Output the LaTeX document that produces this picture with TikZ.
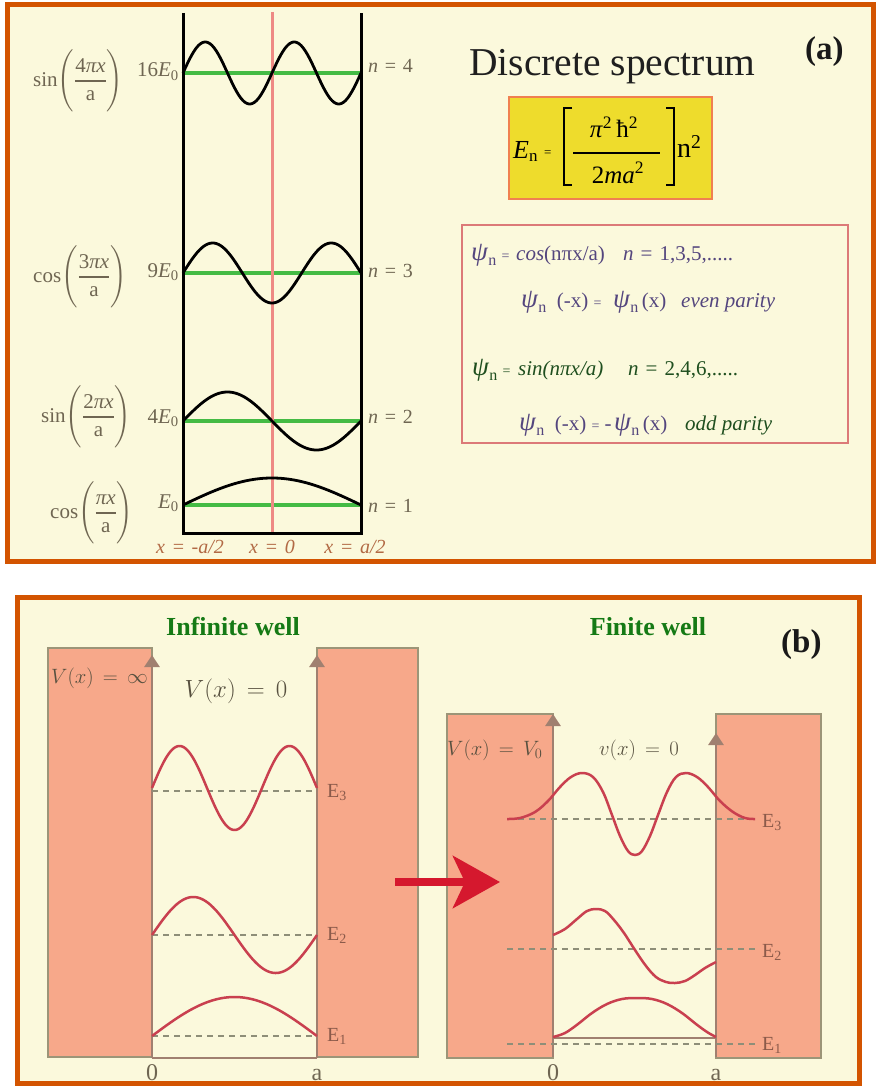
\documentclass[tikz,border=0pt]{standalone}
\usepackage{amsmath}
\usepackage{fontspec}
\setmainfont{Liberation Serif}
\usetikzlibrary{arrows.meta}
\definecolor{frameor}{HTML}{D35400}
\definecolor{cream}{HTML}{FBF9DC}
\definecolor{lblc}{HTML}{6F6652}
\definecolor{grn}{HTML}{44BB44}
\definecolor{pinkline}{HTML}{EE8A84}
\definecolor{xlbl}{HTML}{B26A45}
\definecolor{ybox}{HTML}{EEDC2C}
\definecolor{yboxb}{HTML}{F08050}
\definecolor{psibox}{HTML}{DC7A78}
\definecolor{purp}{HTML}{54467E}
\definecolor{dgreen}{HTML}{1F4F1F}
\definecolor{salmon}{HTML}{F7A88A}
\definecolor{blockb}{HTML}{9C9578}
\definecolor{wallb}{HTML}{A08070}
\definecolor{wavec}{HTML}{C9404F}
\definecolor{dashc}{HTML}{8E8E78}
\definecolor{elbl}{HTML}{8B5A4A}
\definecolor{vlbl}{HTML}{57503F}
\definecolor{titlegreen}{HTML}{157A15}
\definecolor{redarrow}{HTML}{D5182E}
\newcommand{\fs}[1]{\fontsize{#1}{#1}\selectfont}
\newcommand{\psiN}{{\fs{27}\textit{ψ}}\raisebox{-5pt}{\fs{16}n}}
\newcommand{\flab}[3]{#1$\Biggl(\genfrac{}{}{2pt}{0}{\mbox{#2}}{\mbox{#3}}\Biggr)$}
\tikzset{
 panel/.style={draw=frameor, line width=5pt, fill=cream},
 lvl/.style={grn, line width=4pt},
 wf/.style={black, line width=2.8pt, samples=150, smooth},
 lbl/.style={text=lblc, inner sep=0pt},
 blockbox/.style={draw=blockb, line width=2.5pt, fill=salmon},
 wallarrow/.style={wallb, line width=2.5pt, -{Triangle[width=15pt,length=12pt]}},
 elev/.style={dashc, line width=2pt, dash pattern=on 6pt off 5pt},
 rwave/.style={wavec, line width=2.5pt},
 txt/.style={inner sep=0pt},
}
\begin{document}
\begin{tikzpicture}[x=1pt,y=-1pt]
\useasboundingbox (0,0) rectangle (878,1086);
\fill[white] (0,0) rectangle (878,1086);
% ---------- panel (a)
\draw[panel] (7.5,4.5) rectangle (873.5,561.5);
\foreach \yy in {73,273,421,505} \draw[lvl] (183,\yy) -- (361,\yy);
\draw[pinkline, line width=3pt] (272,12) -- (272,533);
\draw[wf, domain=183:361] plot (\x, {73 - 31*sin(4.04494*(\x-272))});
\draw[wf, domain=183:361] plot (\x, {273 + 30*cos(3.03371*(\x-272))});
\draw[wf, domain=183:361] plot (\x, {421 + 29*sin(2.02247*(\x-272))});
\draw[wf, domain=183:361] plot (\x, {505 - 27*cos(1.01124*(\x-272))});
\draw[line width=3pt] (183,13) -- (183,533) -- (361,533) -- (361,13);
% energy labels
\node[lbl, anchor=base east, font=\fs{21}] (e4) at (179,77) {16\textit{E}\textsubscript{0}};
\node[lbl, anchor=base east, font=\fs{21}] (e3) at (179,277) {9\textit{E}\textsubscript{0}};
\node[lbl, anchor=base east, font=\fs{21}] (e2) at (179,423) {4\textit{E}\textsubscript{0}};
\node[lbl, anchor=base east, font=\fs{21}] (e1) at (179,508) {\textit{E}\textsubscript{0}};
\node[lbl, anchor=base west, font=\fs{20}] (n4) at (368,73) {\textit{n}\,\,=\,\,4};
\node[lbl, anchor=base west, font=\fs{20}] (n3) at (368,277) {\textit{n}\,\,=\,\,3};
\node[lbl, anchor=base west, font=\fs{20}] (n2) at (368,423) {\textit{n}\,\,=\,\,2};
\node[lbl, anchor=base west, font=\fs{20}] (n1) at (368,512) {\textit{n}\,\,=\,\,1};
% function labels
\node[lbl, anchor=west, font=\fs{21}] (f4) at (33,81) {\flab{sin}{4\textit{πx}}{a}};
\node[lbl, anchor=west, font=\fs{21}] (f3) at (33,277) {\flab{cos}{3\textit{πx}}{a}};
\node[lbl, anchor=west, font=\fs{21}] (f2) at (41,417) {\flab{sin}{2\textit{πx}}{a}};
\node[lbl, anchor=west, font=\fs{21}] (f1) at (50,513) {\flab{cos}{\textit{πx}}{a}};
% x labels
\node[txt, text=xlbl, anchor=base, font=\fs{20}\itshape] (xl) at (190,553) {x\,\,=\,\,-a/2};
\node[txt, text=xlbl, anchor=base, font=\fs{20}\itshape] (x0) at (272,553) {x\,\,=\,\,0};
\node[txt, text=xlbl, anchor=base, font=\fs{20}\itshape] (xr) at (355,553) {x\,\,=\,\,a/2};
% title
\node[txt, text=black!88, anchor=base west, font=\fs{39.5}] (title) at (469,76) {Discrete spectrum};
\node[txt, text=black!90, anchor=base west, font=\bfseries\fs{33}] (labela) at (805,60) {(a)};
% energy formula box
\draw[draw=yboxb, line width=2pt, fill=ybox] (509,97) rectangle (712,199);
\node[txt, anchor=base west, font=\fs{26}] (En) at (513,159) {\textit{E}\raisebox{-3pt}{\fs{17}n}};
\node[txt, anchor=base west, font=\fs{13}] (eqs) at (544,157) {=};
\draw[line width=2.5pt] (572,108) -- (564,108) -- (564,185) -- (572,185);
\draw[line width=2.5pt] (573,153) -- (660,153);
\draw[line width=2.5pt] (666,108) -- (674,108) -- (674,185) -- (666,185);
\node[txt, anchor=base, font=\fs{25}] (num) at (614,138) {\textit{π}\textsuperscript{2}\,ħ\textsuperscript{2}};
\node[txt, anchor=base, font=\fs{25}] (den) at (618,183) {2\textit{ma}\textsuperscript{2}};
\node[txt, anchor=base west, font=\fs{28}] (nsq) at (677,158) {n\textsuperscript{2}};
% psi box
\draw[psibox, line width=2.5pt] (462,225) rectangle (848,443);
\node[txt, text=purp, anchor=base west, font=\fs{21}] (p1a) at (471,260) {\psiN\ {\fs{14}=}};
\node[txt, text=purp, anchor=base west, font=\fs{21}] (p1b) at (516,260) {\textit{cos}(nπx/a)};
\node[txt, text=purp, anchor=base west, font=\fs{21}] (p1c) at (623,260) {\textit{n}\,\,=\,\,1,3,5,.....};
\node[txt, text=purp, anchor=base west, font=\fs{21}] (p2a) at (521,307) {\psiN\ \ (-x) {\fs{14}=}};
\node[txt, text=purp, anchor=base west, font=\fs{21}] (p2b) at (613,307) {\psiN\,(x)};
\node[txt, text=purp, anchor=base west, font=\fs{21}\itshape] (p2c) at (681,307) {even parity};
\node[txt, text=dgreen, anchor=base west, font=\fs{21}] (p3a) at (472,375) {\psiN\ {\fs{14}=}};
\node[txt, text=dgreen, anchor=base west, font=\fs{21}\itshape] (p3b) at (518,375) {sin(nπx/a)};
\node[txt, text=dgreen, anchor=base west, font=\fs{21}] (p3c) at (628,375) {\textit{n}\,\,=\,\,2,4,6,.....};
\node[txt, text=purp, anchor=base west, font=\fs{21}] (p4a) at (519,430) {\psiN\ \ (-x) {\fs{14}=} -};
\node[txt, text=purp, anchor=base west, font=\fs{21}] (p4b) at (614,430) {\psiN\,(x)};
\node[txt, text=dgreen, anchor=base west, font=\fs{21}\itshape] (p4c) at (685,430) {odd parity};
% ---------- panel (b)
\draw[panel] (17.5,597.5) rectangle (859,1083.5);
\node[txt, text=titlegreen, anchor=base, font=\bfseries\fs{26}] (tinf) at (233,635) {Infinite well};
\node[txt, text=titlegreen, anchor=base, font=\bfseries\fs{26}] (tfin) at (648,635) {Finite well};
\node[txt, text=black!90, anchor=base west, font=\bfseries\fs{33}] (labelb) at (781,652) {(b)};
% infinite well
\draw[blockbox] (48,648) rectangle (152,1057);
\draw[blockbox] (317,648) rectangle (418,1057);
\draw[wallb, line width=2.5pt] (152,1058) -- (317,1058);
\draw[wallarrow] (152,1058) -- (152,655);
\draw[wallarrow] (317,1058) -- (317,655);
\draw[elev] (152,791) -- (317,791);
\draw[elev] (152,935) -- (317,935);
\draw[elev] (152,1036) -- (317,1036);
\draw[rwave, domain=152:317, samples=120, smooth] plot (\x, {788 - 42*sin(3.27273*(\x-152))});
\draw[rwave, domain=152:317, samples=120, smooth] plot (\x, {935 - 38*sin(2.18182*(\x-152))});
\draw[rwave, domain=152:317, samples=120, smooth] plot (\x, {1036 - 39*sin(1.09091*(\x-152))});
\node[txt, text=vlbl, anchor=base west, font=\fs{21}] (vinf) at (51,683) {$V(x)\,=\,\infty$};
\node[txt, text=vlbl, anchor=base, font=\fs{25}] (vz1) at (236,697) {$V(x)\,=\,0$};
\node[txt, text=elbl, anchor=base west, font=\fs{20}] (ie3) at (327,797) {E\textsubscript{3}};
\node[txt, text=elbl, anchor=base west, font=\fs{20}] (ie2) at (327,940) {E\textsubscript{2}};
\node[txt, text=elbl, anchor=base west, font=\fs{20}] (ie1) at (327,1041) {E\textsubscript{1}};
\node[txt, text=lblc, anchor=base, font=\fs{24}] (iz) at (152,1080) {0};
\node[txt, text=lblc, anchor=base, font=\fs{24}] (ia) at (317,1080) {a};
% finite well
\draw[blockbox] (447,714) rectangle (553,1058);
\draw[blockbox] (716,714) rectangle (821,1058);
\draw[wallb, line width=2.5pt] (553,1038) -- (716,1038);
\draw[wallarrow] (553,1057) -- (553,714);
\draw[wallarrow] (716,1057) -- (716,733);
\draw[elev] (507,819) -- (755,819);
\draw[elev] (507,949) -- (755,949);
\draw[elev] (507,1044) -- (755,1044);
\draw[rwave] plot[smooth, tension=0.6] coordinates {(507,819) (520,818) (535,812) (548,801) (560,787) (571,777) (582,773) (593,777) (603,792) (612,815) (620,836) (628,851) (635,855) (642,851) (650,836) (658,815) (667,792) (676,777) (686,773) (697,777) (708,787) (720,801) (733,812) (745,818) (755,819)};
\draw[rwave] plot[smooth, tension=0.6] coordinates {(553,935) (565,929) (577,919) (587,911) (596,909) (605,911) (614,920) (624,933) (635,950) (646,966) (656,977) (666,982) (675,983) (685,981) (695,975) (705,968) (716,962)};
\draw[rwave] plot[smooth, tension=0.6] coordinates {(553,1037) (565,1033) (578,1024) (592,1013) (607,1004) (622,999) (637,998) (652,999) (667,1004) (682,1013) (696,1024) (707,1032) (716,1037)};
\node[txt, text=vlbl, anchor=base west, font=\fs{21}] (vfin) at (447,755) {$V(x)\,=\,V_0$};
\node[txt, text=vlbl, anchor=base, font=\fs{21}] (vz2) at (639,755) {$v(x)\,=\,0$};
\node[txt, text=elbl, anchor=base west, font=\fs{20}] (fe3) at (762,827) {E\textsubscript{3}};
\node[txt, text=elbl, anchor=base west, font=\fs{20}] (fe2) at (762,957) {E\textsubscript{2}};
\node[txt, text=elbl, anchor=base west, font=\fs{20}] (fe1) at (762,1050) {E\textsubscript{1}};
\node[txt, text=lblc, anchor=base, font=\fs{24}] (fz) at (553,1080) {0};
\node[txt, text=lblc, anchor=base, font=\fs{24}] (fa) at (716,1080) {a};
% arrow between
\coordinate (ast) at (395,882);
\coordinate (aen) at (500,882);
\draw[redarrow, line width=8pt, -{Stealth[length=47pt, width=52pt, inset=12pt]}] (ast) -- (aen);
\end{tikzpicture}
\end{document}
